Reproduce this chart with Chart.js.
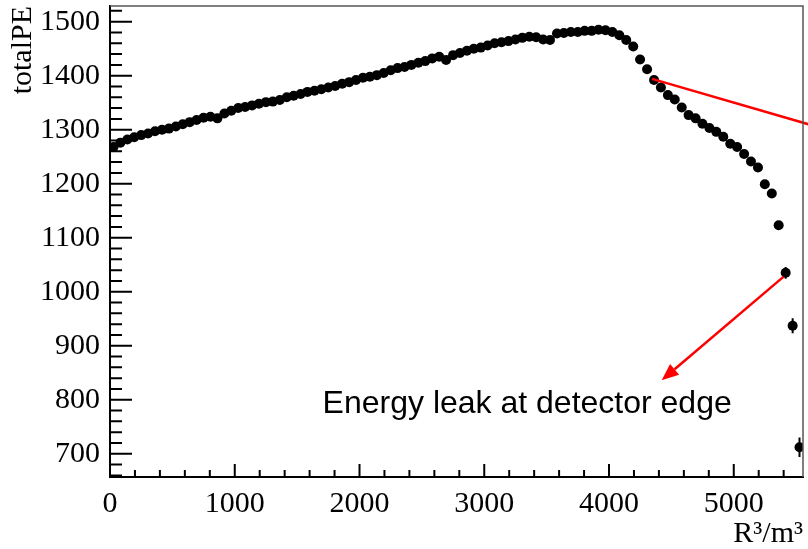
<!DOCTYPE html>
<html>
<head>
<meta charset="utf-8">
<script src="https://cdn.jsdelivr.net/npm/chart.js@4.4.0/dist/chart.umd.min.js"></script>
<style>
  html, body { margin: 0; padding: 0; background: #fff; }
  #wrap { width: 808px; height: 549px; }
</style>
</head>
<body>
<div id="wrap"><canvas id="chart" width="808" height="549"></canvas></div>
<script>
// profile of totalPE versus R^3, 100 bins from 0 to 5555 m^3
const binCenters = [
  28, 83, 139, 194, 250, 305, 361, 417, 472, 528,
  583, 639, 694, 750, 805, 861, 917, 972, 1028, 1083,
  1139, 1194, 1250, 1305, 1361, 1417, 1472, 1528, 1583, 1639,
  1694, 1750, 1805, 1861, 1917, 1972, 2028, 2083, 2139, 2194,
  2250, 2305, 2361, 2416, 2472, 2527, 2583, 2639, 2694, 2750,
  2805, 2861, 2916, 2972, 3027, 3083, 3138, 3194, 3250, 3305,
  3361, 3416, 3472, 3527, 3583, 3638, 3694, 3750, 3805, 3861,
  3916, 3972, 4027, 4083, 4138, 4194, 4249, 4305, 4361, 4416,
  4472, 4527, 4583, 4638, 4694, 4749, 4805, 4860, 4916, 4972,
  5027, 5083, 5138, 5194, 5249, 5305, 5360, 5416, 5472, 5527
];
const totalPE = [
  1268, 1276, 1282, 1286, 1290, 1293, 1297, 1300, 1302, 1306,
  1310, 1314, 1318, 1322, 1324, 1321, 1330, 1335, 1340, 1342,
  1345, 1348, 1351, 1352, 1355, 1360, 1363, 1366, 1370, 1372,
  1375, 1378, 1381, 1385, 1388, 1392, 1396, 1398, 1401, 1405,
  1410, 1414, 1416, 1420, 1424, 1427, 1432, 1435, 1429, 1438,
  1442, 1446, 1450, 1452, 1456, 1460, 1462, 1464, 1467, 1470,
  1472, 1471, 1467, 1466, 1478, 1479, 1481, 1481, 1483, 1483,
  1485, 1484, 1481, 1475, 1466, 1454, 1430, 1412, 1392, 1378,
  1364, 1356, 1341, 1327, 1321, 1311, 1303, 1296, 1287, 1274,
  1268, 1255, 1241, 1230, 1199, 1182, 1123, 1035, 937, 712
];
// only bins whose error bar sticks out of the marker
const errBins = [0, 96, 97, 98, 99];
const errValues = [6, 8, 11, 14, 18];

// labelled axis ticks
const xTickValues = [0, 1000, 2000, 3000, 4000, 5000];
const yTickValues = [700, 800, 900, 1000, 1100, 1200, 1300, 1400, 1500];

// annotation, in data units
const pointerFrom = [4345, 1394];
const pointerTo = [5600, 1310];
const arrowFrom = [5400, 1028];
const arrowTo = [4422, 836];
const noteText = 'Energy leak at detector edge';
const notePos = [3344, 776];

const serif = '"Liberation Serif", "Times New Roman", serif';

const frameAndTicks = {
  id: 'frameAndTicks',
  afterDraw(chart) {
    const {ctx, chartArea: a, scales: {x, y}} = chart;
    ctx.save();
    ctx.strokeStyle = '#000';
    ctx.lineWidth = 2;
    ctx.beginPath();
    for (let v = 0; v <= x.max; v += 200) {
      const px = x.getPixelForValue(v);
      const len = v % 1000 === 0 ? 13 : 7;
      ctx.moveTo(px, a.bottom);
      ctx.lineTo(px, a.bottom - len);
    }
    for (let v = Math.ceil(y.min / 20) * 20; v <= y.max; v += 20) {
      const py = y.getPixelForValue(v);
      const len = v % 100 === 0 ? 22 : 12;
      ctx.moveTo(a.left, py);
      ctx.lineTo(a.left + len, py);
    }
    ctx.stroke();

    ctx.strokeStyle = '#555';
    ctx.lineWidth = 1.5;
    ctx.beginPath();
    ctx.moveTo(a.left, a.top);
    ctx.lineTo(a.right, a.top);
    ctx.lineTo(a.right, a.bottom);
    ctx.stroke();
    ctx.restore();
  }
};

const errorBars = {
  id: 'errorBars',
  beforeDatasetsDraw(chart) {
    const {ctx, scales: {x, y}} = chart;
    ctx.save();
    ctx.strokeStyle = '#000';
    ctx.lineWidth = 2;
    ctx.beginPath();
    errBins.forEach((b, k) => {
      const px = x.getPixelForValue(binCenters[b]);
      ctx.moveTo(px, y.getPixelForValue(totalPE[b] - errValues[k]));
      ctx.lineTo(px, y.getPixelForValue(totalPE[b] + errValues[k]));
    });
    ctx.stroke();
    ctx.restore();
  }
};

const notes = {
  id: 'notes',
  afterDatasetsDraw(chart) {
    const {ctx, scales: {x, y}} = chart;
    const px = p => [x.getPixelForValue(p[0]), y.getPixelForValue(p[1])];
    ctx.save();
    ctx.strokeStyle = '#ff0000';
    ctx.fillStyle = '#ff0000';
    ctx.lineWidth = 2.5;

    let [x0, y0] = px(pointerFrom);
    let [x1, y1] = px(pointerTo);
    ctx.beginPath();
    ctx.moveTo(x0, y0);
    ctx.lineTo(x1, y1);
    ctx.stroke();

    [x0, y0] = px(arrowFrom);
    [x1, y1] = px(arrowTo);
    const ang = Math.atan2(y1 - y0, x1 - x0);
    const headLen = 17, headHalf = 7;
    const bx = x1 - headLen * Math.cos(ang), by = y1 - headLen * Math.sin(ang);
    ctx.beginPath();
    ctx.moveTo(x0, y0);
    ctx.lineTo(bx, by);
    ctx.stroke();
    ctx.beginPath();
    ctx.moveTo(x1, y1);
    ctx.lineTo(bx + headHalf * Math.sin(ang), by - headHalf * Math.cos(ang));
    ctx.lineTo(bx - headHalf * Math.sin(ang), by + headHalf * Math.cos(ang));
    ctx.closePath();
    ctx.fill();

    const [tx, ty] = px(notePos);
    ctx.fillStyle = '#000';
    ctx.font = '32px "Liberation Sans", Arial, sans-serif';
    ctx.textAlign = 'center';
    ctx.textBaseline = 'alphabetic';
    ctx.fillText(noteText, tx, ty);
    ctx.restore();
  }
};

const plain = v => String(v);

new Chart(document.getElementById('chart'), {
  type: 'scatter',
  data: {
    datasets: [{
      data: binCenters.map((v, i) => ({x: v, y: totalPE[i]})),
      backgroundColor: '#000',
      borderWidth: 0,
      pointRadius: 5,
      pointHoverRadius: 5
    }]
  },
  options: {
    responsive: false,
    animation: false,
    events: [],
    layout: { padding: { top: 6, right: 2, left: 0, bottom: 0 } },
    plugins: { legend: { display: false }, tooltip: { enabled: false } },
    scales: {
      x: {
        type: 'linear',
        min: 0,
        max: 5555,
        afterBuildTicks(s) { s.ticks = xTickValues.map(v => ({value: v})); },
        afterFit(s) { s.height = 72; s.paddingLeft = 0; s.paddingRight = 0; },
        grid: { display: false, drawTicks: false },
        border: { display: true, color: '#000', width: 2 },
        ticks: {
          padding: 9,
          color: '#000',
          font: { family: serif, size: 30 },
          maxRotation: 0,
          autoSkip: false,
          callback: plain
        },
        title: {
          display: true,
          text: 'R³/m³',
          align: 'end',
          color: '#000',
          padding: 0,
          font: { family: serif, size: 30, lineHeight: 1 }
        }
      },
      y: {
        min: 657,
        max: 1529,
        afterBuildTicks(s) { s.ticks = yTickValues.map(v => ({value: v})); },
        afterFit(s) { s.width = 110; s.paddingTop = 0; s.paddingBottom = 0; },
        grid: { display: false, drawTicks: false },
        border: { display: true, color: '#000', width: 2 },
        ticks: {
          padding: 10,
          color: '#000',
          font: { family: serif, size: 30 },
          autoSkip: false,
          callback: plain
        },
        title: {
          display: true,
          text: 'totalPE',
          align: 'end',
          color: '#000',
          padding: { top: 8, bottom: 0 },
          font: { family: serif, size: 30, lineHeight: 1 }
        }
      }
    }
  },
  plugins: [errorBars, notes, frameAndTicks]
});
</script>
</body>
</html>
